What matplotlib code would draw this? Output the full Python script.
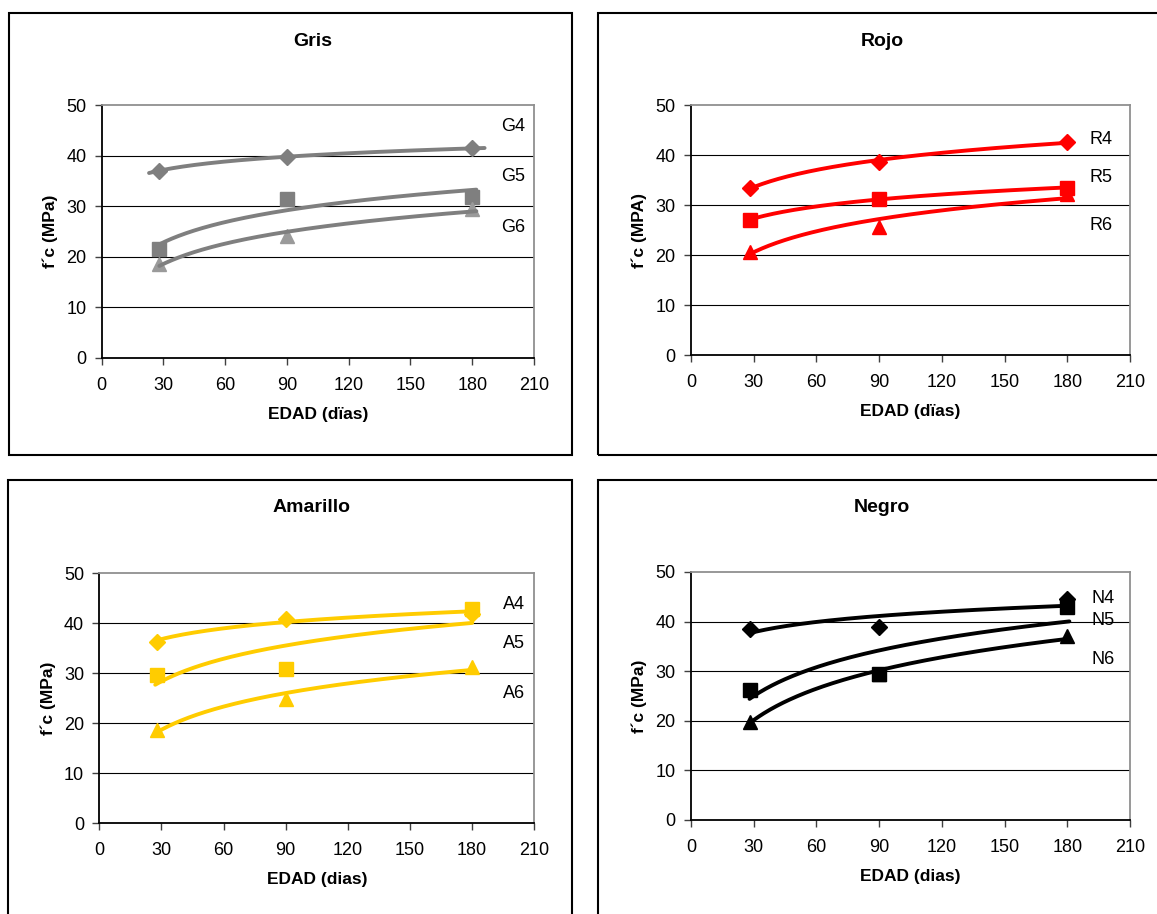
import numpy as np
import matplotlib.pyplot as plt
from matplotlib.patches import Rectangle

plt.rcParams['font.family'] = ['Liberation Sans', 'DejaVu Sans']

# ages (days) of the tests
edad = [28, 90, 180]

# f'c values (MPa)
gris_g4 = [37.0, 39.8, 41.4]
gris_g5 = [21.6, 31.4, 31.8]
gris_g6 = [18.5, 24.0, 29.5]

rojo_r4 = [33.4, 38.6, 42.7]
rojo_r5 = [27.0, 31.3, 33.4]
rojo_r6 = [20.7, 25.7, 32.3]

amar_a4 = [36.3, 40.9, 41.9]
amar_a5 = [29.6, 30.9, 42.9]
amar_a6 = [18.6, 24.9, 31.3]

negro_n4 = [38.5, 38.9, 44.6]
negro_n5 = [26.2, 29.4, 43.0]
negro_n6 = [19.8, 29.4, 37.0]

xticks = [0, 30, 60, 90, 120, 150, 180, 210]
yticks = [0, 10, 20, 30, 40, 50]

W, H = 1157, 914
fig = plt.figure(figsize=(W / 100, H / 100), dpi=100)


def px_box(x0, y0, x1, y1):
    # pixel box (top-left origin) -> figure fraction rect
    return [x0 / W, 1 - y1 / H, (x1 - x0) / W, (y1 - y0) / H]


# outer frames of each chart
for (x0, y0, x1, y1) in [(9, 13, 572, 455), (598, 13, 1170, 455),
                         (8, 480, 572, 930), (598, 480, 1170, 930)]:
    fig.patches.append(Rectangle((x0 / W, 1 - y1 / H), (x1 - x0) / W, (y1 - y0) / H,
                                 transform=fig.transFigure, fill=False,
                                 edgecolor='black', lw=1.5, zorder=0))

panels = [
    dict(box=(101.7, 105, 534, 357.7), title='Gris', xlabel='EDAD (dïas)', ylabel='f´c (MPa)',
         series=[('G4', gris_g4, 'D', '#7f7f7f', 8, (23, 186), 45.7),
                 ('G5', gris_g5, 's', '#7f7f7f', 10, (28, 182), 35.8),
                 ('G6', gris_g6, '^', '#9a9a9a', 10, (28, 182), 25.7)],
         line='#7f7f7f', lab_x=200),
    dict(box=(691, 105, 1130, 355), title='Rojo', xlabel='EDAD (dïas)', ylabel='f´c (MPA)',
         series=[('R4', rojo_r4, 'D', '#ff0000', 8, (28, 180), 43.0),
                 ('R5', rojo_r5, 's', '#ff0000', 10, (28, 180), 35.5),
                 ('R6', rojo_r6, '^', '#ff0000', 10, (28, 180), 26.0)],
         line='#ff0000', lab_x=196),
    dict(box=(99.3, 573, 534.3, 823), title='Amarillo', xlabel='EDAD (dias)', ylabel='f´c (MPa)',
         series=[('A4', amar_a4, 'D', '#ffcc00', 8, (28, 180), 43.7),
                 ('A5', amar_a5, 's', '#ffcc00', 10, (27, 180), 35.9),
                 ('A6', amar_a6, '^', '#ffcc00', 10, (28, 180), 25.9)],
         line='#ffcc00', lab_x=200),
    dict(box=(691, 572, 1130, 820), title='Negro', xlabel='EDAD (dias)', ylabel='f´c (MPa)',
         series=[('N4', negro_n4, 'D', '#000000', 8, (28, 180), 44.7),
                 ('N5', negro_n5, 's', '#000000', 10, (28, 181), 40.3),
                 ('N6', negro_n6, '^', '#000000', 10, (28, 180), 32.4)],
         line='#000000', lab_x=197),
]

for p in panels:
    x0, y0, x1, y1 = p['box']
    ax = fig.add_axes(px_box(x0, y0, x1, y1))
    ax.set_xlim(0, 210)
    ax.set_ylim(0, 50)
    ax.set_xticks(xticks)
    ax.set_yticks(yticks)
    ax.tick_params(labelsize=13, length=5, width=1, color='#404040', pad=6)
    ax.tick_params(axis='x', pad=9)
    for y in yticks[1:-1]:
        ax.axhline(y, color='black', lw=0.8, zorder=1)
    ax.spines['left'].set_color('black')
    ax.spines['bottom'].set_color('black')
    ax.spines['top'].set_color('#909090')
    ax.spines['right'].set_color('#909090')
    for s in ax.spines.values():
        s.set_linewidth(1.3)

    x = np.array(edad, dtype=float)
    for name, vals, mk, col, ms, ext, lab_y in p['series']:
        ax.plot(x, vals, linestyle='none', marker=mk, color=col, markersize=ms, zorder=3)
        # logarithmic trend line
        a, b = np.polyfit(np.log(x), vals, 1)
        xx = np.linspace(ext[0], ext[1], 200)
        ax.plot(xx, a * np.log(xx) + b, color=p['line'], lw=2.8, zorder=4,
                solid_capstyle='round')
        ax.text(p['lab_x'], lab_y, name, fontsize=13, ha='center', va='center')

    ax.set_xlabel(p['xlabel'], fontsize=12.5, fontweight='bold', labelpad=9)
    ax.set_ylabel(p['ylabel'], fontsize=12.5, fontweight='bold', labelpad=6)
    cx = (x0 + x1) / 2 - 5
    fig.text(cx / W if p['title'] in ('Gris', 'Amarillo') else 882 / W,
             1 - (42 if y0 < 300 else 508) / H, p['title'],
             fontsize=14, fontweight='bold', ha='center', va='center')

fig.savefig('out.png', dpi=100)
